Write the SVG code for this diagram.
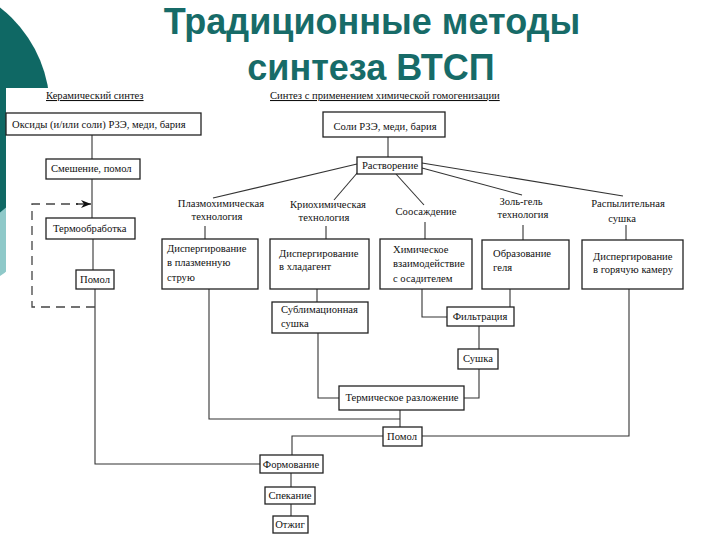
<svg xmlns="http://www.w3.org/2000/svg" width="720" height="540" viewBox="0 0 720 540">
<defs>
<style>
.bx{fill:#fff;stroke:#222;stroke-width:1.3}
.t{font-family:"Liberation Serif","Times New Roman",serif;font-size:10.6px;fill:#111}
.m{text-anchor:middle}
.u{text-decoration:underline}
.c{fill:none;stroke:#333;stroke-width:1.1}
.d{fill:none;stroke:#444;stroke-width:1.3;stroke-dasharray:9,6}
.title{font-family:"Liberation Sans",Arial,sans-serif;font-size:36px;font-weight:bold;fill:#176b68;text-anchor:middle}
</style>
<marker id="ar" viewBox="0 0 10 8" refX="10" refY="4" markerWidth="10" markerHeight="8" markerUnits="userSpaceOnUse" orient="auto">
<path d="M0,0 L10,4 L0,8 L3,4 Z" fill="#111"/>
</marker>
</defs>
<rect width="720" height="540" fill="#fff"/>
<g id="decor">
<circle cx="-30" cy="230" r="55" fill="#8fc9c9"/>
<circle cx="-80" cy="110" r="130" fill="#0f6864"/>
<rect x="6" y="88" width="714" height="452" fill="#fff"/>
</g>
<g id="title">
<text class="title" x="372" y="34">Традиционные методы</text>
<text class="title" x="371" y="80">синтеза ВТСП</text>
</g>
<g id="headers">
<text class="t u" x="46" y="99">Керамический синтез</text>
<text class="t u" x="270" y="99">Синтез с применением химической гомогенизации</text>
</g>
<g id="connectors">
<line class="c" x1="92" y1="135" x2="92" y2="159"/>
<line class="c" x1="92" y1="179" x2="92" y2="218"/>
<line class="c" x1="93" y1="239" x2="93" y2="270"/>
<polyline class="c" points="95,289 95,464 260,464"/>
<polyline class="d" points="95,307 32,307 32,204 78,204"/>
<line x1="76" y1="204" x2="91" y2="204" stroke="#111" stroke-width="1.2" marker-end="url(#ar)"/>
<line class="c" x1="388" y1="137" x2="388" y2="157"/>
<line class="c" x1="357" y1="164" x2="213" y2="198"/>
<line class="c" x1="358" y1="172" x2="334" y2="200"/>
<line class="c" x1="396" y1="174" x2="424" y2="205"/>
<line class="c" x1="422" y1="168" x2="522" y2="195"/>
<line class="c" x1="422" y1="163" x2="623" y2="196"/>
<line class="c" x1="205" y1="226" x2="205" y2="239"/>
<line class="c" x1="326" y1="226" x2="326" y2="239"/>
<line class="c" x1="425" y1="222" x2="425" y2="239"/>
<line class="c" x1="523" y1="225" x2="523" y2="240"/>
<line class="c" x1="626" y1="225" x2="626" y2="240"/>
<polyline class="c" points="209,289 209,419 400,419"/>
<line class="c" x1="400" y1="410" x2="400" y2="427"/>
<line class="c" x1="317" y1="289" x2="317" y2="302"/>
<polyline class="c" points="318,333 318,398 339,398"/>
<polyline class="c" points="422,289 422,317 447,317"/>
<line class="c" x1="510" y1="289" x2="510" y2="307"/>
<line class="c" x1="479" y1="326" x2="479" y2="349"/>
<polyline class="c" points="479,369 479,398 464,398"/>
<polyline class="c" points="383,436 292,436 292,455"/>
<polyline class="c" points="422,436 629,436 629,289"/>
<line class="c" x1="291" y1="473" x2="291" y2="487"/>
<line class="c" x1="291" y1="504" x2="291" y2="516"/>
</g>
<g id="n-oxides"><rect class="bx" x="6" y="113" width="195" height="22"/><text class="t" x="12" y="128">Оксиды (и/или соли) РЗЭ, меди, бария</text></g>
<g id="n-mix"><rect class="bx" x="46" y="159" width="94" height="20"/><text class="t" x="51" y="172">Смешение, помол</text></g>
<g id="n-heat"><rect class="bx" x="46" y="218" width="89" height="21"/><text class="t" x="53" y="232">Термообработка</text></g>
<g id="n-mill1"><rect class="bx" x="76" y="270" width="38" height="19"/><text class="t m" x="95" y="283">Помол</text></g>
<g id="n-salts"><rect class="bx" x="323" y="112" width="122" height="25"/><text class="t m" x="385" y="130">Соли РЗЭ, меди, бария</text></g>
<g id="n-diss"><rect class="bx" x="357" y="157" width="65" height="17"/><text class="t m" x="390" y="169">Растворение</text></g>
<g id="l-plasma"><text class="t m" x="221" y="207">Плазмохимическая</text><text class="t m" x="217" y="220">технология</text></g>
<g id="l-cryo"><text class="t m" x="328" y="208">Криохимическая</text><text class="t m" x="324" y="221">технология</text></g>
<g id="l-cop"><text class="t m" x="426" y="215">Соосаждение</text></g>
<g id="l-sol"><text class="t m" x="521" y="205">Золь-гель</text><text class="t m" x="523" y="218">технология</text></g>
<g id="l-spray"><text class="t m" x="628" y="207">Распылительная</text><text class="t m" x="622" y="222">сушка</text></g>
<g id="n-plasma"><rect class="bx" x="162" y="239" width="96" height="50"/><text class="t" x="167" y="252">Диспергирование</text><text class="t" x="167" y="266">в плазменную</text><text class="t" x="167" y="281">струю</text></g>
<g id="n-cryo"><rect class="bx" x="270" y="239" width="99" height="50"/><text class="t" x="279" y="257">Диспергирование</text><text class="t" x="279" y="270">в хладагент</text></g>
<g id="n-chem"><rect class="bx" x="380" y="239" width="92" height="50"/><text class="t" x="393" y="253">Химическое</text><text class="t" x="393" y="267">взаимодействие</text><text class="t" x="393" y="282">с осадителем</text></g>
<g id="n-gel"><rect class="bx" x="482" y="240" width="87" height="49"/><text class="t" x="493" y="257">Образование</text><text class="t" x="493" y="271">геля</text></g>
<g id="n-spray"><rect class="bx" x="582" y="240" width="101" height="49"/><text class="t" x="593" y="260">Диспергирование</text><text class="t" x="593" y="273">в горячую камеру</text></g>
<g id="n-subl"><rect class="bx" x="272" y="302" width="96" height="31"/><text class="t" x="281" y="313">Сублимационная</text><text class="t" x="281" y="327">сушка</text></g>
<g id="n-filt"><rect class="bx" x="447" y="307" width="67" height="19"/><text class="t m" x="480" y="320">Фильтрация</text></g>
<g id="n-dry"><rect class="bx" x="458" y="349" width="40" height="20"/><text class="t m" x="478" y="362">Сушка</text></g>
<g id="n-decomp"><rect class="bx" x="339" y="386" width="125" height="24"/><text class="t m" x="402" y="401">Термическое разложение</text></g>
<g id="n-mill2"><rect class="bx" x="383" y="427" width="39" height="19"/><text class="t m" x="402" y="440">Помол</text></g>
<g id="n-form"><rect class="bx" x="260" y="455" width="63" height="18"/><text class="t m" x="291" y="468">Формование</text></g>
<g id="n-sint"><rect class="bx" x="265" y="487" width="50" height="17"/><text class="t m" x="290" y="499">Спекание</text></g>
<g id="n-anneal"><rect class="bx" x="273" y="516" width="35" height="17"/><text class="t m" x="290" y="528">Отжиг</text></g>
</svg>
